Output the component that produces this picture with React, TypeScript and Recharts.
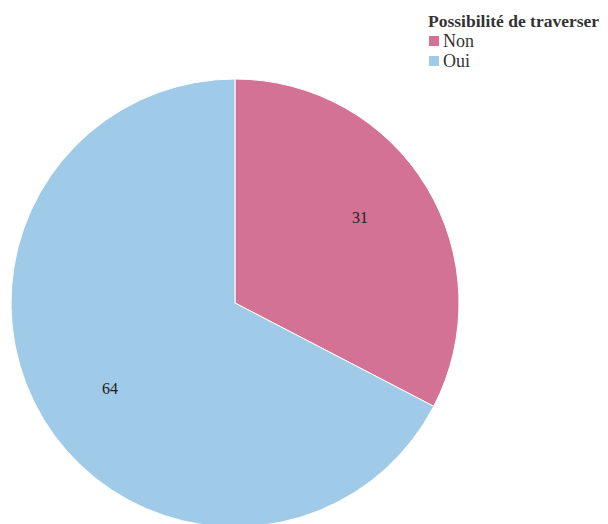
import { PieChart, Pie, Cell, Legend } from 'recharts';

const categories = ['Non', 'Oui'];
const counts = [31, 64];
const colors = ['#d37295', '#a0cbe8'];
const legendTitle = 'Possibilité de traverser';

const data = categories.map((name, i) => ({ name, value: counts[i] }));

const RADIAN = Math.PI / 180;

function renderLabel({ cx, cy, midAngle, outerRadius, value }: any) {
  // labels sit a little counter-clockwise of the slice middle in the original
  const a = (midAngle + 3) * RADIAN;
  const r = outerRadius * 0.675;
  const x = cx + r * Math.cos(-a);
  const y = cy + r * Math.sin(-a);
  return (
    <text
      x={x}
      y={y}
      textAnchor="middle"
      dominantBaseline="central"
      fill="#222"
      style={{ fontFamily: '"Liberation Serif", serif', fontSize: 16 }}
    >
      {value}
    </text>
  );
}

function LegendBox() {
  return (
    <div
      style={{
        fontFamily: '"Liberation Serif", serif',
        color: '#333',
        lineHeight: '20px',
        whiteSpace: 'nowrap',
      }}
    >
      <div style={{ fontWeight: 'bold', fontSize: 17.5 }}>{legendTitle}</div>
      {categories.map((c, i) => (
        <div key={c} style={{ display: 'flex', alignItems: 'center', fontSize: 18 }}>
          <span
            style={{
              display: 'inline-block',
              width: 10,
              height: 10,
              background: colors[i],
              marginLeft: 1,
              marginRight: 4,
            }}
          />
          {c}
        </div>
      ))}
    </div>
  );
}

export default function App() {
  return (
    <PieChart width={600} height={516}>
      <Pie
        data={data}
        dataKey="value"
        nameKey="name"
        cx={222}
        cy={290}
        outerRadius={224}
        startAngle={90}
        endAngle={-270}
        stroke="#fff"
        strokeWidth={1}
        label={renderLabel}
        labelLine={false}
        isAnimationActive={false}
      >
        {data.map((d, i) => (
          <Cell key={d.name} fill={colors[i]} />
        ))}
      </Pie>
      <Legend
        content={() => <LegendBox />}
        wrapperStyle={{ position: 'absolute', top: 3, left: 420, width: 190 }}
      />
    </PieChart>
  );
}
